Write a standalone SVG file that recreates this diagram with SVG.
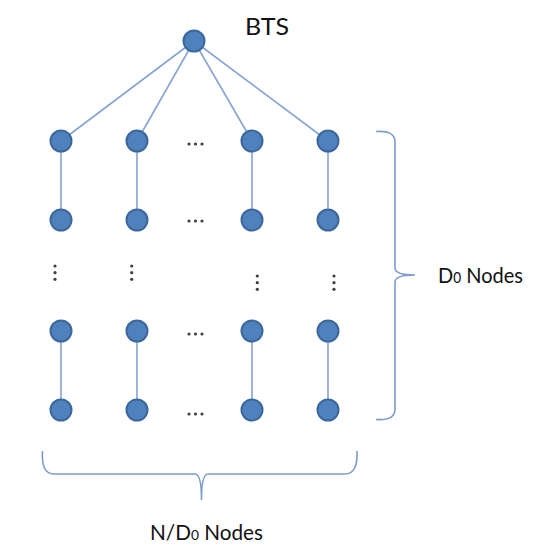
<svg xmlns="http://www.w3.org/2000/svg" width="555" height="559" viewBox="0 0 555 559">
<style>
.n{fill:#4f81bd;stroke:#3b679c;stroke-width:2}
.e{stroke:#86a3d3;stroke-width:1.6;fill:none}
.b{stroke:#7d9cd0;stroke-width:1.6;fill:none}
.d{fill:#404040}
.t{font-family:Lato,"Open Sans",sans-serif;fill:#111}
</style>
<rect width="555" height="559" fill="#fff"/>
<g id="connectors">
<line class="e" x1="194" y1="41" x2="61" y2="141"/>
<line class="e" x1="194" y1="41" x2="137" y2="141"/>
<line class="e" x1="194" y1="41" x2="252" y2="141"/>
<line class="e" x1="194" y1="41" x2="328" y2="141"/>
<line class="e" x1="61" y1="141" x2="61" y2="220"/>
<line class="e" x1="137" y1="141" x2="137" y2="220"/>
<line class="e" x1="252" y1="141" x2="252" y2="220"/>
<line class="e" x1="328" y1="141" x2="328" y2="220"/>
<line class="e" x1="61" y1="331" x2="61" y2="410"/>
<line class="e" x1="137" y1="331" x2="137" y2="410"/>
<line class="e" x1="252" y1="331" x2="252" y2="410"/>
<line class="e" x1="328" y1="331" x2="328" y2="410"/>
</g>
<g id="bts"><circle class="n" cx="194" cy="41" r="10.5"/><text class="t" x="245" y="35" font-size="23" textLength="44" lengthAdjust="spacingAndGlyphs">BTS</text></g>
<g id="n11"><circle class="n" cx="61" cy="141" r="10.5"/></g>
<g id="n12"><circle class="n" cx="137" cy="141" r="10.5"/></g>
<g id="n13"><circle class="n" cx="252" cy="141" r="10.5"/></g>
<g id="n14"><circle class="n" cx="328" cy="141" r="10.5"/></g>
<g id="n21"><circle class="n" cx="61" cy="220" r="10.5"/></g>
<g id="n22"><circle class="n" cx="137" cy="220" r="10.5"/></g>
<g id="n23"><circle class="n" cx="252" cy="220" r="10.5"/></g>
<g id="n24"><circle class="n" cx="328" cy="220" r="10.5"/></g>
<g id="n31"><circle class="n" cx="61" cy="331" r="10.5"/></g>
<g id="n32"><circle class="n" cx="137" cy="331" r="10.5"/></g>
<g id="n33"><circle class="n" cx="252" cy="331" r="10.5"/></g>
<g id="n34"><circle class="n" cx="328" cy="331" r="10.5"/></g>
<g id="n41"><circle class="n" cx="61" cy="410" r="10.5"/></g>
<g id="n42"><circle class="n" cx="137" cy="410" r="10.5"/></g>
<g id="n43"><circle class="n" cx="252" cy="410" r="10.5"/></g>
<g id="n44"><circle class="n" cx="328" cy="410" r="10.5"/></g>
<g id="ellipses">
<g class="d">
<circle cx="189" cy="144" r="1.6"/><circle cx="195.5" cy="144" r="1.6"/><circle cx="202" cy="144" r="1.6"/>
<circle cx="189" cy="221" r="1.6"/><circle cx="195.5" cy="221" r="1.6"/><circle cx="202" cy="221" r="1.6"/>
<circle cx="189" cy="334" r="1.6"/><circle cx="195.5" cy="334" r="1.6"/><circle cx="202" cy="334" r="1.6"/>
<circle cx="189" cy="414" r="1.6"/><circle cx="195.5" cy="414" r="1.6"/><circle cx="202" cy="414" r="1.6"/>
<circle cx="55" cy="266" r="1.6"/><circle cx="55" cy="272.7" r="1.6"/><circle cx="55" cy="279.3" r="1.6"/>
<circle cx="131.7" cy="266" r="1.6"/><circle cx="131.7" cy="272.7" r="1.6"/><circle cx="131.7" cy="279.3" r="1.6"/>
<circle cx="257.3" cy="276" r="1.6"/><circle cx="257.3" cy="282.7" r="1.6"/><circle cx="257.3" cy="289.3" r="1.6"/>
<circle cx="334" cy="276" r="1.6"/><circle cx="334" cy="282.7" r="1.6"/><circle cx="334" cy="289.3" r="1.6"/>
</g>
</g>
<g id="brace-right">
<path class="b" d="M376,131.5 Q395,130 395,142 L395,268 Q395,275 415,275 Q395,275 395,282 L395,409 Q395,421 376,419.5"/>
<text class="t" x="438" y="283" font-size="22" textLength="85" lengthAdjust="spacingAndGlyphs">D<tspan font-size="15">0</tspan> Nodes</text>
</g>
<g id="brace-bottom">
<path class="b" d="M42.5,451 Q41,474 54,474 L195,474 Q201.5,474 201.5,500 Q201.5,474 208,474 L345,474 Q358,474 357,451"/>
<text class="t" x="150" y="540" font-size="21" textLength="113" lengthAdjust="spacingAndGlyphs">N/D<tspan font-size="14">0</tspan> Nodes</text>
</g>
</svg>
